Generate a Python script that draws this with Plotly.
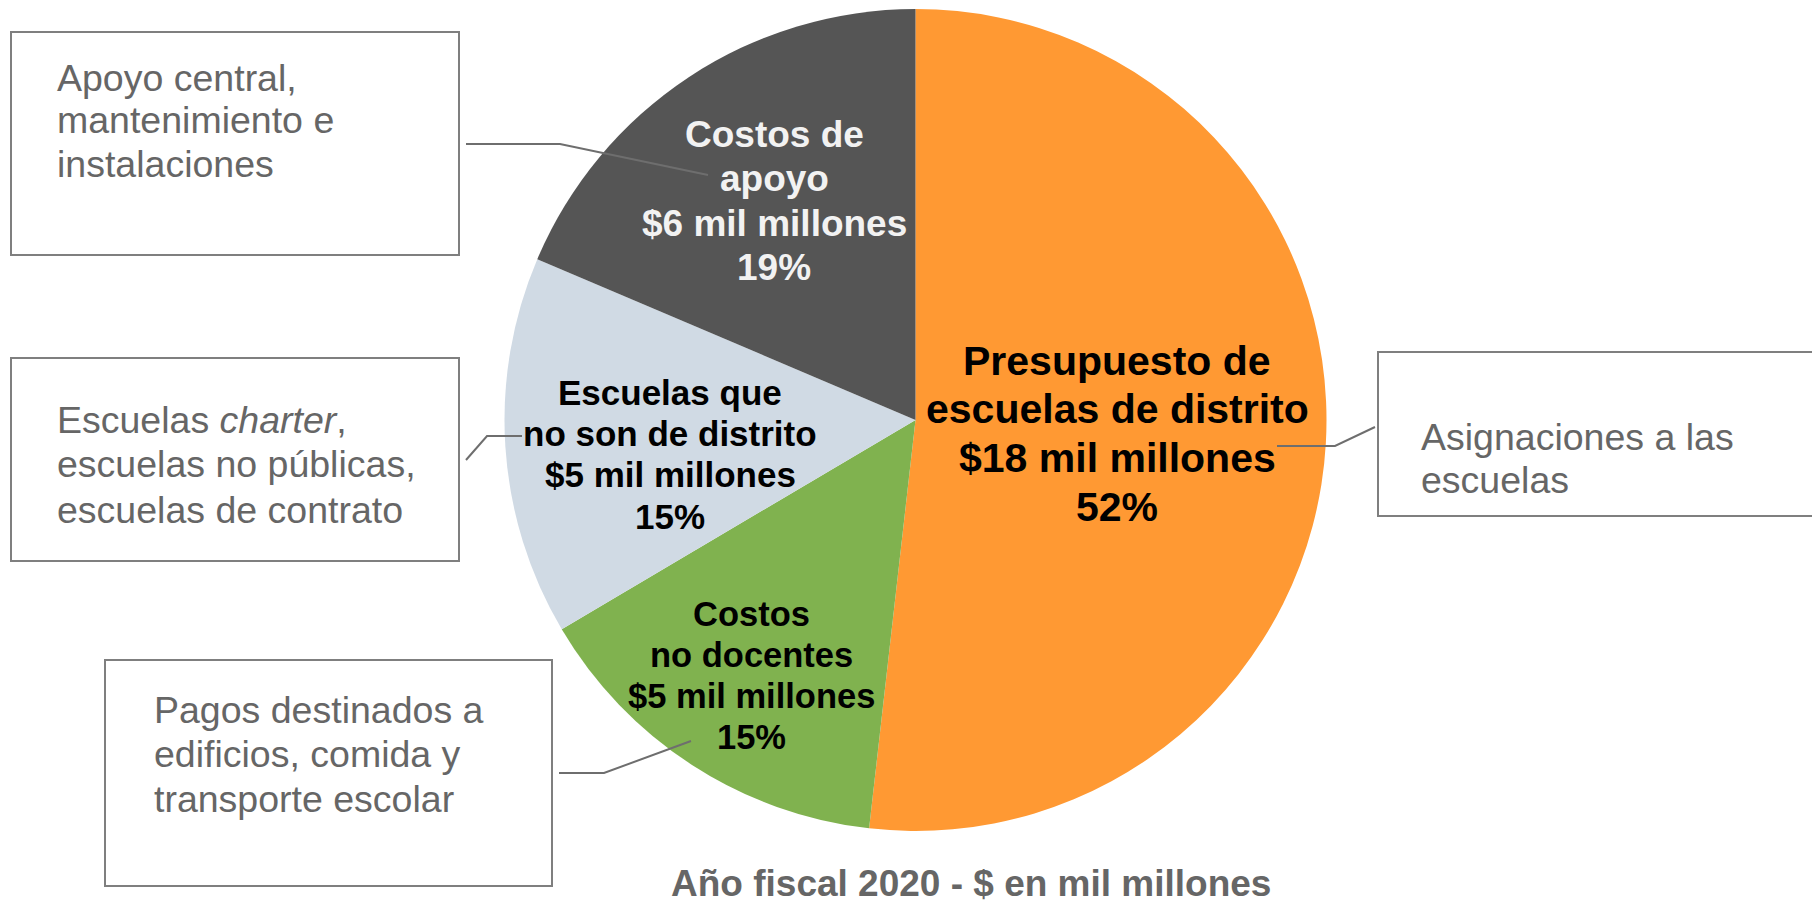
"""Pie chart: FY2020 school budget breakdown with callout boxes."""

import plotly.graph_objects as go

W, H = 1812, 903
FONT = "Arial, Liberation Sans, sans-serif"

# data
segment_lines = [
    ["Presupuesto de", "escuelas de distrito"],
    ["Costos", "no docentes"],
    ["Escuelas que", "no son de distrito"],
    ["Costos de", "apoyo"],
]
amounts_bn = [18, 5, 5, 6]
shown_pct = [52, 15, 15, 19]
slice_share = [51.8, 14.7, 14.9, 18.6]
slice_colors = ["#FF9933", "#80B24F", "#D0DAE4", "#555555"]
label_colors = ["#000000", "#000000", "#000000", "#F2F2F2"]

callout_lines = [
    ["Asignaciones a las", "escuelas"],
    ["Pagos destinados a", "edificios, comida y", "transporte escolar"],
    ["Escuelas <i>charter</i>,", "escuelas no públicas,", "escuelas de contrato"],
    ["Apoyo central,", "mantenimiento e", "instalaciones"],
]
title_text = "Año fiscal 2020 - $ en mil millones"

# layout, in pixels from the top-left corner
pie_cx, pie_cy, pie_r = 915.5, 420, 411
label_pos = [(1117, 361, 48.5, 41), (751, 613.5, 41, 34.5), (670, 392, 41.5, 35), (774, 134, 44.5, 37)]
callout_box = [(1378, 352, 1830, 516), (105, 660, 552, 886), (11, 358, 459, 561), (11, 32, 459, 255)]
callout_text = [(1419, 436.5, 43.5), (152, 709.5, 44.5), (55, 419.5, 45), (55, 77.5, 43)]
connectors = [
    [(1277, 446), (1335, 446), (1375, 427)],
    [(559, 773), (604, 773), (691, 741)],
    [(466, 460), (487, 436), (522, 436)],
    [(466, 144), (560, 144), (708, 175)],
]


def px(x):
    return x / W


def py(y):
    return 1 - y / H


fig = go.Figure(
    go.Pie(
        values=slice_share,
        labels=[" ".join(lines) for lines in segment_lines],
        marker=dict(colors=slice_colors, line=dict(width=0)),
        sort=False,
        direction="clockwise",
        rotation=0,
        textinfo="none",
        hoverinfo="skip",
        showlegend=False,
        domain=dict(
            x=[px(pie_cx - pie_r), px(pie_cx + pie_r)],
            y=[py(pie_cy + pie_r), py(pie_cy - pie_r)],
        ),
    )
)


def add_lines(lines, x, y0, step, size, color, bold, anchor):
    for i, line in enumerate(lines):
        fig.add_annotation(
            x=px(x), y=py(y0 + i * step), xref="paper", yref="paper",
            text=f"<b>{line}</b>" if bold else line,
            showarrow=False, xanchor=anchor, yanchor="middle",
            font=dict(family=FONT, size=size, color=color),
        )


for lines, amt, pct, color, (x, y0, step, size) in zip(
    segment_lines, amounts_bn, shown_pct, label_colors, label_pos
):
    add_lines(lines + [f"${amt} mil millones", f"{pct}%"], x, y0, step, size, color, True, "center")

for lines, (x0, y0, x1, y1), (tx, ty, step), path in zip(
    callout_lines, callout_box, callout_text, connectors
):
    fig.add_shape(
        type="rect", xref="paper", yref="paper",
        x0=px(x0), y0=py(y0), x1=px(x1), y1=py(y1),
        line=dict(color="#7F7F7F", width=2), fillcolor="rgba(0,0,0,0)",
    )
    add_lines(lines, tx, ty, step, 37.5, "#666666", False, "left")
    d = "M " + " L ".join(f"{px(a)},{py(b)}" for a, b in path)
    fig.add_shape(type="path", xref="paper", yref="paper", path=d,
                  line=dict(color="#6E6E6E", width=2))

add_lines([title_text], 971, 883, 0, 37, "#666666", True, "center")

fig.update_layout(
    width=W, height=H,
    margin=dict(l=0, r=0, t=0, b=0),
    paper_bgcolor="white", plot_bgcolor="white",
)
# drop the browser's default body margin so the figure sits at the corner
fig.write_html(
    "out.html",
    config={"displayModeBar": False},
    post_script="document.body.style.margin = '0';",
)
